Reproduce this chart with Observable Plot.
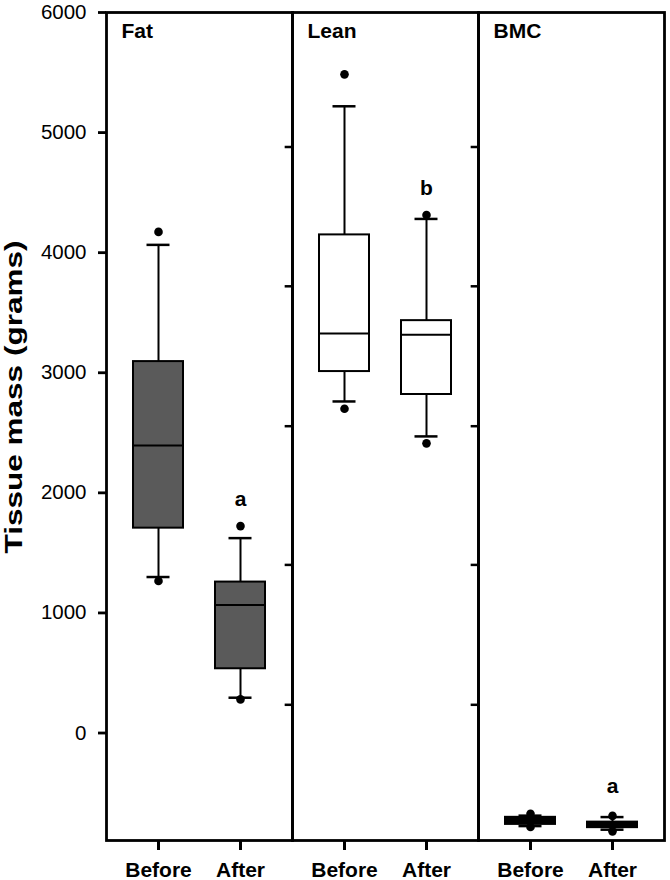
<!DOCTYPE html>
<html><head><meta charset="utf-8">
<script src="https://cdn.jsdelivr.net/npm/d3@7"></script>
<script src="https://cdn.jsdelivr.net/npm/@observablehq/plot@0.6"></script>
<style>
body{margin:0;background:#fff}
#chart svg{font-family:"Liberation Sans",Arial,sans-serif}
</style>
</head><body><div id="chart"></div>
<script>
// ---- data ----
const panels = ["Fat", "Lean", "BMC"];
const groups = ["Before", "After"];
const yTicks = [0, 1000, 2000, 3000, 4000, 5000, 6000];
const dividerPanels = ["Fat", "Lean"];
const dividerTicks = [4880, 3720, 2555, 1400, 235];

const boxPanel    = ["Fat", "Fat", "Lean", "Lean", "BMC", "BMC"];
const boxGroup    = ["Before", "After", "Before", "After", "Before", "After"];
const whiskerLow  = [1299, 294, 2761, 2470, -775, -805];
const q1          = [1706, 535, 3010, 2819, -761, -788];
const median      = [2395, 1066, 3326, 3317, -735, -765];
const q3          = [3093, 1257, 4148, 3434, -702, -742];
const whiskerHigh = [4065, 1623, 5219, 4281, -688, -700];
const outlierLow  = [1266, 280, 2700, 2412, -783, -819];
const outlierHigh = [4173, 1723, 5485, 4314, -672, -690];

const sigPanel = ["Fat", "Lean", "BMC"];
const sigGroup = ["After", "After", "After"];
const sigText  = ["a", "b", "a"];
const sigValue = [1950, 4540, -445];

const yLabel = "Tissue mass (grams)";

// ---- build tables ----
const boxes = boxPanel.map((p, i) => ({
  panel: p, group: boxGroup[i], lo: whiskerLow[i], q1: q1[i], med: median[i],
  q3: q3[i], hi: whiskerHigh[i], oLo: outlierLow[i], oHi: outlierHigh[i]
}));
const sigs = sigPanel.map((p, i) => ({panel: p, group: sigGroup[i], text: sigText[i], v: sigValue[i]}));
const divs = dividerPanels.flatMap(p => dividerTicks.map(v => ({panel: p, v})));

const panelFill = {Fat: "#5a5a5a", Lean: "#ffffff", BMC: "#000000"};

const W = 670, H = 880, mL = 105, mR = 5, mT = 12, mB = 40;
const facetW = (W - mL - mR) / panels.length;
const capInset = 13.5;

const chart = Plot.plot({
  width: W, height: H,
  marginLeft: mL, marginRight: mR, marginTop: mT, marginBottom: mB,
  fx: {domain: panels, padding: 0, axis: null},
  x: {domain: groups, paddingInner: 0.39, paddingOuter: 0.32},
  y: {domain: [-895, 6000]},
  marks: [
    Plot.frame({stroke: "black", strokeWidth: 2.8}),
    Plot.tickY(divs, {fx: "panel", y: "v", insetLeft: facetW - 8, strokeWidth: 2.5}),
    Plot.ruleX(boxes, {fx: "panel", x: "group", y1: "lo", y2: "hi", stroke: "black", strokeWidth: 2}),
    Plot.barY(boxes, {fx: "panel", x: "group", y1: "q1", y2: "q3", fill: d => panelFill[d.panel], stroke: "black", strokeWidth: 2}),
    Plot.tickY(boxes, {fx: "panel", x: "group", y: "med", stroke: "black", strokeWidth: 2}),
    Plot.tickY(boxes, {fx: "panel", x: "group", y: "lo", stroke: "black", strokeWidth: 2.5, insetLeft: capInset, insetRight: capInset}),
    Plot.tickY(boxes, {fx: "panel", x: "group", y: "hi", stroke: "black", strokeWidth: 2.5, insetLeft: capInset, insetRight: capInset}),
    Plot.dot(boxes, {fx: "panel", x: "group", y: "oLo", r: 4.3, fill: "black"}),
    Plot.dot(boxes, {fx: "panel", x: "group", y: "oHi", r: 4.3, fill: "black"}),
    Plot.text(sigs, {fx: "panel", x: "group", y: "v", text: "text", fontSize: 21, fontWeight: "bold", fill: "black"}),
    Plot.text(panels, {fx: d => d, text: d => d, frameAnchor: "top-left", lineAnchor: "top", dx: 15, dy: 11, fontSize: 21, fontWeight: "bold", fill: "black", textAnchor: "start"}),
    Plot.axisY({ticks: yTicks, tickSize: 8, tickPadding: 12, fontSize: 20.5, strokeWidth: 2.8, label: null, tickFormat: d => String(d), fill: "black"}),
    Plot.axisX({tickSize: 10, tickPadding: 12, fontSize: 21, fontWeight: "bold", strokeWidth: 3, label: null, fill: "black"}),
    Plot.text([yLabel], {facet: "super", frameAnchor: "left", rotate: -90, textAnchor: "start", dx: -92, dy: 127, text: d => d, fontSize: 23, fontWeight: "bold", fill: "black", className: "ylab"})
  ]
});
document.getElementById("chart").appendChild(chart);
d3.select(chart).selectAll(".ylab text").attr("textLength", 313).attr("lengthAdjust", "spacingAndGlyphs");
</script>
</body></html>
